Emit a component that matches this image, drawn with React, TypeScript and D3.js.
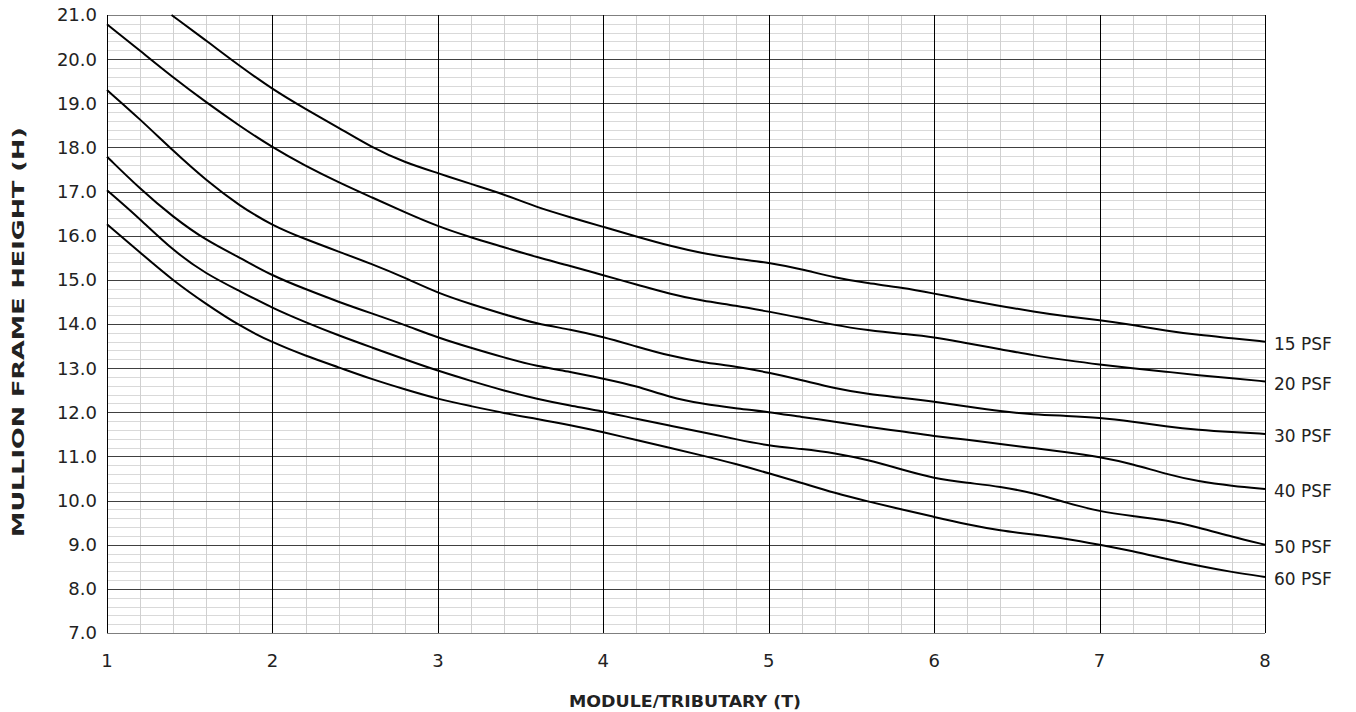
import { useEffect, useRef } from "react";
import * as d3 from "d3";

// x positions (module / tributary) shared by the curves
const xs = [
  1.0, 1.2, 1.4, 1.6, 1.8, 2.0, 2.2, 2.4, 2.6, 2.8, 3.0, 3.2, 3.4, 3.6, 3.8, 4.0,
  4.2, 4.4, 4.6, 4.8, 5.0, 5.2, 5.4, 5.6, 5.8, 6.0, 6.2, 6.4, 6.6, 6.8, 7.0, 7.2,
  7.4, 7.6, 7.8, 8.0,
];

// 15 PSF leaves the top of the chart, so it starts where it enters
const psf15X = [1.39, ...xs.slice(3)];
const psf15 = [
  21.0, 20.42, 19.85, 19.32, 18.87, 18.45, 18.0, 17.66, 17.42, 17.17, 16.94,
  16.64, 16.42, 16.2, 15.98, 15.77, 15.6, 15.48, 15.39, 15.24, 15.05, 14.92,
  14.83, 14.69, 14.54, 14.41, 14.28, 14.17, 14.09, 13.98, 13.85, 13.75, 13.68,
  13.6,
];
const psf20 = [
  20.79, 20.19, 19.58, 19.02, 18.49, 18.0, 17.58, 17.21, 16.87, 16.53, 16.21,
  15.96, 15.74, 15.51, 15.32, 15.1, 14.9, 14.68, 14.52, 14.42, 14.28, 14.14,
  13.97, 13.86, 13.78, 13.71, 13.56, 13.43, 13.29, 13.18, 13.08, 13.0, 12.92,
  12.84, 12.77, 12.7,
];
const psf30 = [
  19.3, 18.64, 17.92, 17.25, 16.68, 16.23, 15.92, 15.64, 15.36, 15.05, 14.7,
  14.45, 14.22, 14.0, 13.88, 13.71, 13.49, 13.28, 13.13, 13.04, 12.9, 12.73,
  12.54, 12.41, 12.33, 12.24, 12.13, 12.02, 11.95, 11.92, 11.88, 11.79, 11.68,
  11.6, 11.55, 11.51,
];
const psf40 = [
  17.79, 17.06, 16.42, 15.89, 15.51, 15.09, 14.79, 14.5, 14.24, 13.98, 13.69,
  13.46, 13.24, 13.04, 12.92, 12.76, 12.6, 12.34, 12.19, 12.09, 12.01, 11.89,
  11.79, 11.67, 11.57, 11.46, 11.38, 11.28, 11.19, 11.1, 10.99, 10.83, 10.6,
  10.43, 10.33, 10.26,
];
const psf50 = [
  17.03, 16.38, 15.66, 15.13, 14.75, 14.36, 14.04, 13.74, 13.47, 13.2, 12.94,
  12.71, 12.49, 12.3, 12.15, 12.02, 11.85, 11.7, 11.55, 11.39, 11.24, 11.17,
  11.08, 10.92, 10.71, 10.5, 10.4, 10.32, 10.17, 9.95, 9.75, 9.65, 9.56, 9.39,
  9.18, 9.0,
];
const psf60 = [
  16.26, 15.62, 14.98, 14.45, 13.96, 13.58, 13.28, 13.02, 12.75, 12.52, 12.3,
  12.14, 11.98, 11.85, 11.71, 11.55, 11.37, 11.2, 11.02, 10.83, 10.62, 10.4,
  10.17, 9.98, 9.8, 9.63, 9.46, 9.32, 9.23, 9.14, 9.0, 8.86, 8.68, 8.52, 8.38,
  8.27,
];

const seriesLabels = ["15 PSF", "20 PSF", "30 PSF", "40 PSF", "50 PSF", "60 PSF"];
const xTicks = [1, 2, 3, 4, 5, 6, 7, 8];
const yTicks = [7, 8, 9, 10, 11, 12, 13, 14, 15, 16, 17, 18, 19, 20, 21];

const FONT = "'DejaVu Sans', sans-serif";

export default function App() {
  const ref = useRef<SVGSVGElement>(null);

  useEffect(() => {
    if (!ref.current) return;
    const root = d3.select(ref.current);
    root.selectAll("*").remove();

    const margin = { top: 7, right: 83, bottom: 79, left: 99 };
    const width = 1340 - margin.left - margin.right;
    const height = 704 - margin.top - margin.bottom;

    const svg = root
      .append("g")
      .attr("transform", `translate(${margin.left},${margin.top})`);

    const x = d3.scaleLinear().domain([1, 8]).range([0, width]);
    const y = d3.scaleLinear().domain([7, 21]).range([height, 0]);

    // minor grid every 0.2
    const minorX = d3.range(1, 8.001, 0.2).filter((v) => Math.abs(v - Math.round(v)) > 0.01);
    const minorY = d3.range(7, 21.001, 0.2).filter((v) => Math.abs(v - Math.round(v)) > 0.01);

    svg
      .append("g")
      .selectAll("line")
      .data(minorY)
      .enter()
      .append("line")
      .attr("x1", 0)
      .attr("x2", width)
      .attr("y1", (d) => Math.round(y(d)) + 0.5)
      .attr("y2", (d) => Math.round(y(d)) + 0.5)
      .attr("stroke", "#d9d9d9")
      .attr("stroke-width", 1);

    svg
      .append("g")
      .selectAll("line")
      .data(minorX)
      .enter()
      .append("line")
      .attr("y1", 0)
      .attr("y2", height)
      .attr("x1", (d) => Math.round(x(d)) + 0.5)
      .attr("x2", (d) => Math.round(x(d)) + 0.5)
      .attr("stroke", "#d0d0d0")
      .attr("stroke-width", 1);

    // major grid
    svg
      .append("g")
      .selectAll("line")
      .data(yTicks)
      .enter()
      .append("line")
      .attr("x1", 0)
      .attr("x2", width)
      .attr("y1", (d) => Math.round(y(d)) + 0.5)
      .attr("y2", (d) => Math.round(y(d)) + 0.5)
      .attr("stroke", (d) => (d === 7 || d === 21 ? "#7f7f7f" : "#404040"))
      .attr("stroke-width", 1);

    svg
      .append("g")
      .selectAll("line")
      .data(xTicks)
      .enter()
      .append("line")
      .attr("y1", 0)
      .attr("y2", height)
      .attr("x1", (d) => Math.round(x(d)) + 0.5)
      .attr("x2", (d) => Math.round(x(d)) + 0.5)
      .attr("stroke", "#000")
      .attr("stroke-width", 1);

    // tick labels
    svg
      .append("g")
      .selectAll("text")
      .data(yTicks)
      .enter()
      .append("text")
      .attr("x", -10)
      .attr("y", (d) => y(d))
      .attr("dy", "0.36em")
      .attr("text-anchor", "end")
      .style("font-family", FONT)
      .style("font-size", "18px")
      .style("fill", "#222")
      .text((d) => d.toFixed(1));

    svg
      .append("g")
      .selectAll("text")
      .data(xTicks)
      .enter()
      .append("text")
      .attr("x", (d) => x(d))
      .attr("y", height + 34)
      .attr("text-anchor", "middle")
      .style("font-family", FONT)
      .style("font-size", "18px")
      .style("fill", "#222")
      .text((d) => String(d));

    // curves
    const curves: { xv: number[]; yv: number[] }[] = [
      { xv: psf15X, yv: psf15 },
      { xv: xs, yv: psf20 },
      { xv: xs, yv: psf30 },
      { xv: xs, yv: psf40 },
      { xv: xs, yv: psf50 },
      { xv: xs, yv: psf60 },
    ];

    const line = d3
      .line<[number, number]>()
      .x((d) => x(d[0]))
      .y((d) => y(d[1]))
      .curve(d3.curveBasis);

    curves.forEach((c, i) => {
      const pts = c.xv.map((v, j) => [v, c.yv[j]] as [number, number]);
      svg
        .append("path")
        .datum(pts)
        .attr("fill", "none")
        .attr("stroke", "#000")
        .attr("stroke-width", 2)
        .attr("d", line);

      const last = pts[pts.length - 1];
      svg
        .append("text")
        .attr("x", width + 9)
        .attr("y", y(last[1]) + 2)
        .attr("dy", "0.36em")
        .style("font-family", FONT)
        .style("font-size", "17px")
        .style("fill", "#222")
        .text(seriesLabels[i]);
    });

    // axis titles
    svg
      .append("text")
      .attr("x", width / 2 - 1)
      .attr("y", height + 74)
      .attr("text-anchor", "middle")
      .attr("textLength", 232)
      .attr("lengthAdjust", "spacingAndGlyphs")
      .style("font-family", FONT)
      .style("font-size", "16px")
      .style("font-weight", "bold")
      .style("fill", "#222")
      .text("MODULE/TRIBUTARY (T)");

    svg
      .append("text")
      .attr("transform", `translate(${-83},${height / 2 + 8}) rotate(-90)`)
      .attr("text-anchor", "middle")
      .attr("textLength", 410)
      .attr("lengthAdjust", "spacingAndGlyphs")
      .style("font-family", FONT)
      .style("font-size", "16px")
      .style("font-weight", "bold")
      .style("fill", "#222")
      .text("MULLION FRAME HEIGHT (H)");
  }, []);

  return (
    <svg
      ref={ref}
      width={1340}
      height={704}
      style={{ display: "block", overflow: "visible" }}
    />
  );
}
